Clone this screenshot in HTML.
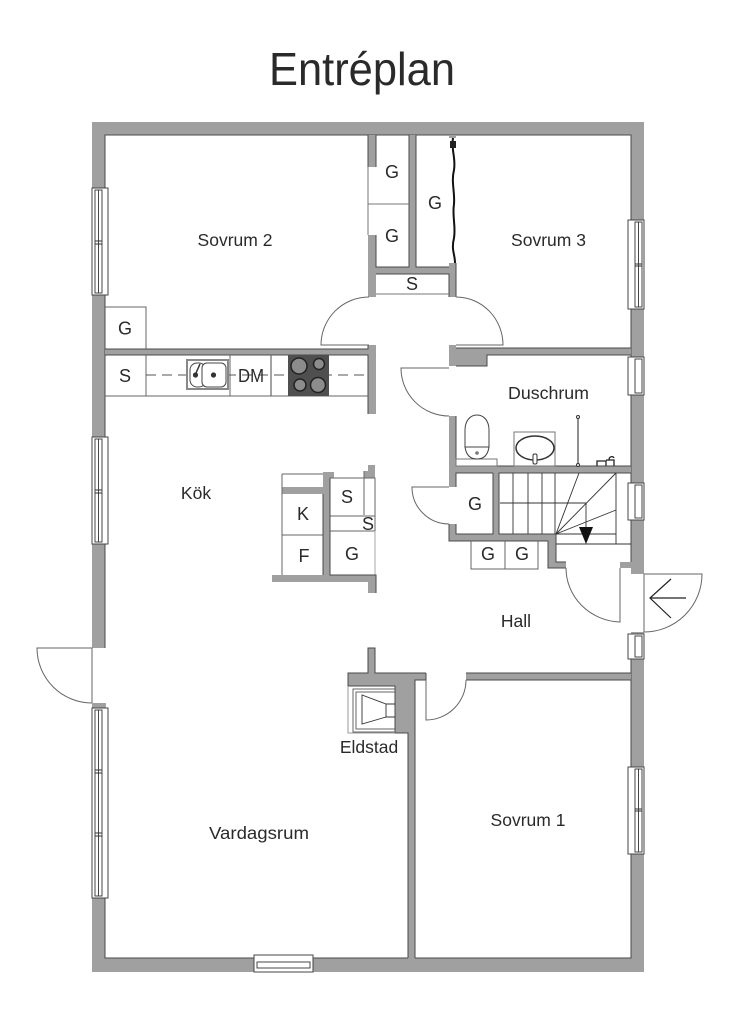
<!DOCTYPE html>
<html>
<head>
<meta charset="utf-8">
<style>
html,body{margin:0;padding:0;background:#fff}
svg{display:block}
text{font-family:"Liberation Sans",sans-serif;fill:#2a2a2a;text-anchor:middle}
.w{fill:#a0a0a0;stroke:none}
.e{fill:none;stroke:#4a4a4a;stroke-width:1}
.l{fill:none;stroke:#666;stroke-width:1}
.t{fill:none;stroke:#333;stroke-width:.9}
.win{fill:#fff;stroke:#444;stroke-width:1}
</style>
</head>
<body>
<svg width="740" height="1024" viewBox="0 0 740 1024" xmlns="http://www.w3.org/2000/svg">
<text x="362" y="85" font-size="46" textLength="186" lengthAdjust="spacingAndGlyphs">Entréplan</text>

<!-- outer walls -->
<path class="w" fill-rule="evenodd" d="M92 122H644V972H92ZM105 135V958H631V135Z"/>
<path class="e" d="M105 188V135H631V220M631 309V357M631 395V483M631 520V562M631 659V958H415M408 958H313M254 958H105V898M105 708V703M105 648V544M105 437V295"/>

<!-- door gaps in outer wall -->
<rect x="90" y="648" width="15" height="55" fill="#fff"/>
<rect x="631" y="574" width="15" height="58" fill="#fff"/>
<rect class="w" x="92" y="703" width="13" height="5"/>

<!-- upper inner walls -->
<path class="w" d="M368 135H376V167H368ZM409 135H416V267H449V263H456V297H449V274H376V297H368V235H376V267H409ZM449 135H456V138H449Z"/>
<path class="w" d="M105 349H368V345H376V414H368V355H105Z"/>
<path class="w" d="M449 345H456V348H631V355H487V366H449Z"/>
<path class="w" d="M449 416H456V466H631V473H499V534H556V568H566V562H548V568H548V541H449V524H456V534H493V473H456V487H449Z"/>
<path class="w" d="M548 541H556V562H566V568H548Z"/>
<path class="w" d="M620 562H631V568H644V573H632V568H620Z"/>
<path class="w" d="M631 632H644V640H631Z"/>
<path class="e" d="M376 135V167M368 167V135M409 135V267H376V235M416 135V267H449M376 274H449V297M456 263V297"/>
<path class="e" d="M105 355H368V414M105 349H368V345"/>
<path class="e" d="M456 348H631M631 355H487V366H456"/>
<path class="e" d="M456 416V466H631M631 473H499V534H556V562H566M493 473H456V487M493 473V534H456V524M449 524V541H548V568H566"/>

<!-- hall / living walls -->
<path class="w" d="M466 673H631V680H466Z"/>
<path class="w" d="M368 648H375V673H426V680H415V958H408V733H395V686H348V673H368Z"/>
<path class="e" d="M466 673H631M466 680H631M426 673V680H415V958M408 958V733H395V686H348V673H368V648H375V673H426"/>

<!-- kitchen partition -->
<path class="w" d="M323 472H330V478H334V472H330V575H368H376V593H368V582H272V575H323V494H282V487H323Z"/>
<path class="w" d="M368 465H375V478H364V471H368Z"/>
<path class="l" d="M282 474H323M282 474V575M282 535H323M330 478H375V531M364 471V478M364 478V515M330 516H375M330 531H375"/>
<path d="M375 531V575" stroke="#aaa" fill="none"/>
<path class="e" d="M330 478V575H376V593M323 494V575"/>

<!-- closets lines -->
<path d="M368 167V235M368 204H409M376 294H449" stroke="#777" fill="none"/>

<!-- curtain -->
<path d="M453 138C451 150 456 158 454 170C451 182 455 192 454 204C452 216 456 226 454 238C451 250 455 254 455 263" fill="none" stroke="#111" stroke-width="2"/>
<rect x="450" y="141" width="6" height="7" fill="#222"/>

<!-- doors -->
<path class="l" d="M456 345H503A47 48 0 0 0 456 297"/>
<path class="l" d="M369 345H321A48 48 0 0 1 369 297"/>
<path class="l" d="M449 368H401A48 48 0 0 0 449 416"/>
<path class="l" d="M449 487H412A37 37 0 0 0 449 524"/>
<path class="l" d="M566 568A56 54 0 0 0 620 622V568"/>
<path class="l" d="M644 574H702A58 58 0 0 1 644 632V574"/>
<path class="l" d="M426 680V720A40 40 0 0 0 466 680"/>
<path class="l" d="M92 703V648H37A55 55 0 0 0 92 703"/>
<path d="M686 598H650M671 579L650 598L671 618" fill="none" stroke="#222" stroke-width="1.2"/>

<!-- windows left -->
<rect class="win" x="92" y="188" width="16" height="107"/>
<rect class="t" x="95" y="190" width="7" height="103"/>
<path class="t" d="M95 241H102M95 244H102M98.500 190V293"/>
<rect class="win" x="92" y="437" width="16" height="107"/>
<rect class="t" x="95" y="439" width="7" height="103"/>
<path class="t" d="M95 490H102M95 493H102M98.500 439V542"/>
<rect class="win" x="92" y="708" width="16" height="190"/>
<rect class="t" x="95" y="710" width="7" height="186"/>
<path class="t" d="M95 770H102M95 773H102M95 833H102M95 836H102M98.500 710V896"/>

<!-- windows right -->
<rect class="win" x="628" y="220" width="16" height="89"/>
<rect class="t" x="635" y="222" width="7" height="85"/>
<path class="t" d="M635 264H642M635 266H642M638.500 222V307"/>
<rect class="win" x="628" y="357" width="16" height="38"/>
<rect class="t" x="635" y="359" width="7" height="34"/>
<rect class="win" x="628" y="483" width="16" height="37"/>
<rect class="t" x="635" y="485" width="7" height="33"/>
<rect class="win" x="628" y="634" width="16" height="25"/>
<rect class="t" x="635" y="636" width="7" height="21"/>
<rect class="win" x="628" y="767" width="16" height="87"/>
<rect class="t" x="635" y="769" width="7" height="83"/>
<path class="t" d="M635 809H642M635 811H642M638.500 769V852"/>

<!-- window bottom -->
<rect class="win" x="254" y="955" width="59" height="17"/>
<rect class="t" x="257" y="962" width="53" height="6"/>

<!-- counter -->
<path class="l" d="M105 396H368M146 355V396M230 355V396"/>
<path d="M271 355V396" stroke="#666" fill="none" stroke-width="1.2"/>
<path class="l" d="M105 307H146V349"/>
<path d="M146 375H368" stroke="#555" stroke-dasharray="10 6" fill="none"/>
<rect x="187" y="360" width="41" height="29" fill="#fff" stroke="#888" stroke-width="2"/>
<rect x="190" y="363" width="16" height="24" rx="7" fill="#fff" stroke="#444"/>
<rect x="202" y="363" width="24" height="24" rx="5" fill="#fff" stroke="#444"/>
<circle cx="195.500" cy="375" r="2.600" fill="#333"/>
<circle cx="213.500" cy="375" r="2.600" fill="#333"/>
<path d="M196 373L200 364" stroke="#333" stroke-width="1.500"/>
<rect x="288" y="355" width="41" height="41" fill="#4f4f4f"/>
<circle cx="299" cy="366" r="8" fill="#8c8c8c" stroke="#222" stroke-width="1.500"/>
<circle cx="319" cy="364" r="5.500" fill="#8c8c8c" stroke="#222" stroke-width="1.500"/>
<circle cx="300" cy="385" r="6" fill="#8c8c8c" stroke="#222" stroke-width="1.500"/>
<circle cx="318" cy="385" r="7.500" fill="#8c8c8c" stroke="#222" stroke-width="1.500"/>

<!-- bathroom -->
<rect x="456" y="459" width="41" height="7" fill="#fff" stroke="#777"/>
<path d="M465 447V430C465 421 470 415 477 415C484 415 489 421 489 430V447Z" fill="#fff" stroke="#444"/>
<path d="M465 447H489C488 454 485 459 477 459C469 459 466 454 465 447Z" fill="#fff" stroke="#444"/>
<circle cx="477" cy="453" r="1.800" fill="#777"/>
<rect x="514" y="432" width="41" height="34" fill="#fff" stroke="#777"/>
<ellipse cx="535" cy="448" rx="19" ry="12" fill="#fff" stroke="#333" stroke-width="1.500"/>
<rect x="533" y="454" width="4" height="10" rx="1.500" fill="#fff" stroke="#333"/>
<path d="M578 417V465" stroke="#444" stroke-width="1.200"/>
<circle cx="578" cy="417" r="1.500" fill="#fff" stroke="#333"/>
<circle cx="578" cy="465" r="1.500" fill="#fff" stroke="#333"/>
<path d="M597 466V461H606V466M606 460H614V466M609 460C609 456 613 456 614 458" fill="none" stroke="#222" stroke-width="1.300"/>

<!-- stairs -->
<path class="t" d="M513 473V534M528 473V534M542 473V534M555 473V534M500 503H586M586 503V528M616 473V544M556 534H616M556 544H631M556 534L579 473M556 534L616 473M556 534L616 510"/>
<path d="M579 527H593L586 544Z" fill="#111"/>
<path class="l" d="M471 541V569H538V541M505 541V569"/>

<!-- fireplace -->
<path d="M395 733H348V686" fill="none" stroke="#999"/>
<path class="l" d="M395 689H353V732H395M395 692H356V729H395"/>
<path class="t" d="M362 695V724L386 717V704ZM386 704H395M386 717H395"/>

<!-- labels -->
<g font-size="17.500">
<text x="235" y="246">Sovrum 2</text>
<text x="548.500" y="246">Sovrum 3</text>
<text x="548.500" y="399" textLength="81" lengthAdjust="spacingAndGlyphs">Duschrum</text>
<text x="196" y="499">Kök</text>
<text x="516" y="627">Hall</text>
<text x="369" y="753">Eldstad</text>
<text x="259" y="839" textLength="100" lengthAdjust="spacingAndGlyphs">Vardagsrum</text>
<text x="528" y="826">Sovrum 1</text>
</g>
<g font-size="18">
<text x="392" y="178">G</text>
<text x="392" y="242">G</text>
<text x="435" y="209">G</text>
<text x="412" y="290">S</text>
<text x="125" y="334.500">G</text>
<text x="125" y="382">S</text>
<text x="251" y="382" textLength="26" lengthAdjust="spacingAndGlyphs">DM</text>
<text x="303" y="520">K</text>
<text x="304" y="562">F</text>
<text x="347" y="503">S</text>
<text x="368" y="530">S</text>
<text x="352" y="560">G</text>
<text x="475" y="510">G</text>
<text x="488" y="560">G</text>
<text x="522" y="560">G</text>
</g>
</svg>
</body>
</html>
